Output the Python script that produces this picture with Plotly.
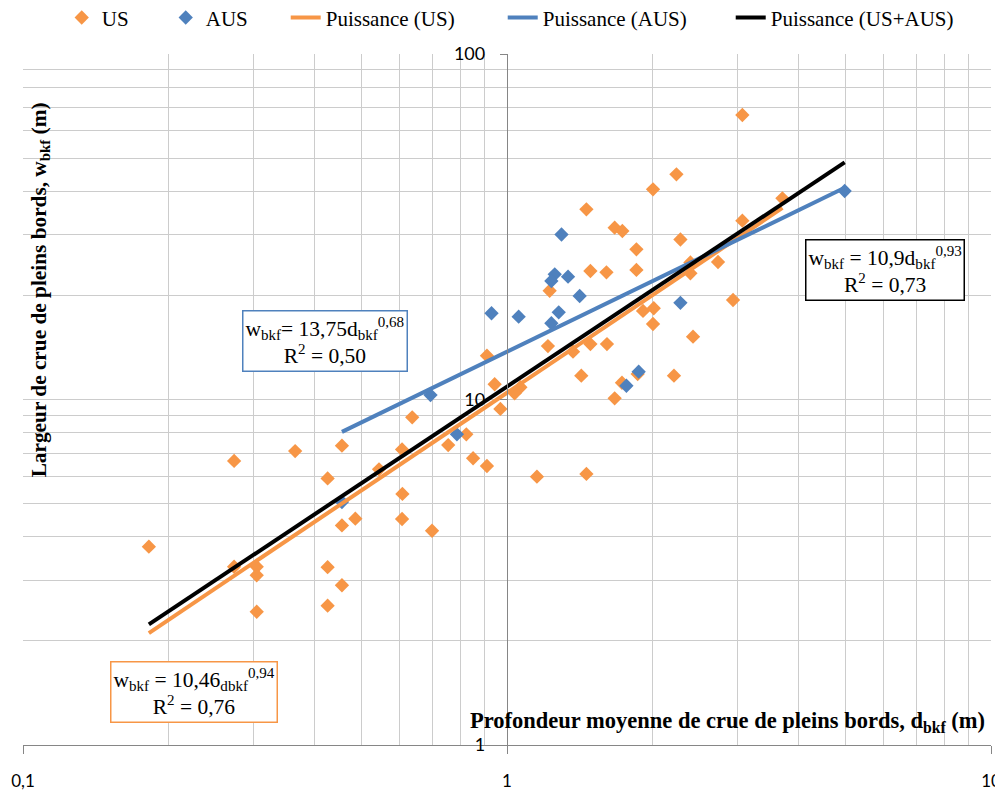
import numpy as np
import plotly.graph_objects as go

# ---- data ----
us_d = [0.182, 0.273, 0.365, 0.456, 0.426, 0.607, 0.637, 0.756, 0.544, 0.608,
        0.607, 0.486, 0.456, 0.700, 0.273, 0.304, 0.304, 0.426, 0.456, 0.304,
        0.426, 0.824, 0.851, 0.909, 1.153, 1.459, 0.969, 0.943, 1.037, 1.066,
        0.909, 1.215, 1.487, 1.609, 1.369, 1.424, 2.213, 1.862, 1.728, 1.669,
        1.910, 2.010, 2.003, 2.423, 2.931, 1.225, 1.487, 1.605, 1.851, 2.393,
        2.393, 2.729, 3.064, 2.282, 1.851, 1.669, 1.731, 1.459, 2.003, 2.239,
        3.064, 3.707]
us_w = [3.75, 6.64, 7.09, 7.35, 5.91, 7.17, 8.88, 7.38, 6.28, 5.33,
        4.51, 4.52, 4.32, 4.17, 3.28, 3.28, 3.10, 3.27, 2.90, 2.43,
        2.53, 7.93, 6.76, 6.42, 5.98, 6.09, 9.39, 11.07, 10.42, 10.85,
        13.39, 14.28, 14.47, 14.47, 13.75, 11.72, 11.72, 11.85, 11.18, 10.08,
        18.04, 18.37, 16.54, 15.20, 19.41, 20.64, 23.55, 23.34, 23.71, 23.19,
        24.92, 25.00, 32.93, 29.05, 27.21, 31.42, 30.74, 35.52, 40.59, 44.86,
        66.6, 38.22]

aus_d = [0.456, 0.695, 0.788, 0.929, 1.057, 1.235, 1.279, 1.255, 1.235, 1.337,
         1.413, 1.296, 1.871, 1.765, 2.282, 4.985]
aus_w = [5.05, 10.30, 7.93, 17.77, 17.37, 16.62, 17.88, 23.03, 22.03, 22.67,
         19.93, 30.03, 12.04, 10.96, 19.05, 40.13]

# power-law trend coefficients (w = a * d^b), as printed on the chart
fit_us = (10.46, 0.94)
fit_aus = (13.75, 0.68)
fit_all = (10.9, 0.93)

legend_names = ["US", "AUS", "Puissance (US)", "Puissance (AUS)", "Puissance (US+AUS)"]
x_tickvals = [0.1, 1, 10]
x_ticktext = ["0,1", "1", "10"]
y_tickvals = [1, 10, 100]
y_ticktext = ["1", "10", "100"]

ORANGE = "#F79646"
BLUE = "#4F81BD"
GRID = "#CCCCCC"
AXIS = "#868686"
SERIF = "Liberation Serif, DejaVu Serif, serif"
SANS = "Lato, Liberation Sans, sans-serif"


def trend(xs, fit):
    xx = np.geomspace(min(xs), max(xs), 20)
    return xx, fit[0] * xx ** fit[1]


fig = go.Figure()
fig.add_trace(go.Scatter(x=us_d, y=us_w, mode="markers", name=legend_names[0],
                         legendwidth=59,
                         marker=dict(symbol="diamond", size=11, color=ORANGE)))
fig.add_trace(go.Scatter(x=aus_d, y=aus_w, mode="markers", name=legend_names[1],
                         legendwidth=75,
                         marker=dict(symbol="diamond", size=11, color=BLUE)))
tx, ty = trend(us_d, fit_us)
fig.add_trace(go.Scatter(x=tx, y=ty, mode="lines", name=legend_names[2],
                         legendwidth=172,
                         line=dict(color=ORANGE, width=4)))
tx, ty = trend(aus_d, fit_aus)
fig.add_trace(go.Scatter(x=tx, y=ty, mode="lines", name=legend_names[3],
                         legendwidth=183,
                         line=dict(color=BLUE, width=4)))
tx, ty = trend(us_d + aus_d, fit_all)
fig.add_trace(go.Scatter(x=tx, y=ty, mode="lines", name=legend_names[4],
                         legendwidth=190,
                         line=dict(color="black", width=4)))

minor_x = [m * 10 ** e for e in (-1, 0) for m in range(2, 10)]
minor_y = [m * 10 ** e for e in (0, 1) for m in range(2, 10)]

# the page body adds an 8 px offset, so the figure is 8 px smaller
fig.update_layout(
    width=995, height=784,
    margin=dict(l=15, r=12, t=46, b=47, autoexpand=False),
    paper_bgcolor="white", plot_bgcolor="white",
    showlegend=True,
    legend=dict(orientation="h", xref="paper", yref="paper",
                x=0.040, xanchor="left", y=1.082, yanchor="top",
                font=dict(family=SERIF, size=21, color="black"),
                bgcolor="rgba(0,0,0,0)"),
    xaxis=dict(type="log", range=[-1, 1], tickmode="array", tickvals=x_tickvals,
               ticktext=x_ticktext, ticks="outside", ticklen=8, tickcolor=AXIS,
               showgrid=True, gridcolor=GRID, gridwidth=1,
               showline=True, linecolor=AXIS, linewidth=1.3, zeroline=False,
               tickfont=dict(family=SANS, size=17, color="black"),
               ticklabelstandoff=12,
               minor=dict(tickmode="array", tickvals=minor_x, showgrid=True,
                          gridcolor=GRID, gridwidth=1, ticks="")),
    yaxis=dict(type="log", range=[0, 2], tickmode="array", tickvals=y_tickvals,
               ticktext=y_ticktext, ticks="outside", ticklen=7, tickcolor=AXIS,
               anchor="free", position=0.5,
               showgrid=True, gridcolor=GRID, gridwidth=1,
               showline=True, linecolor=AXIS, linewidth=1.3, zeroline=False,
               tickfont=dict(family=SANS, size=18, color="black"),
               ticklabelstandoff=11,
               minor=dict(tickmode="array", tickvals=minor_y, showgrid=True,
                          gridcolor=GRID, gridwidth=1, ticks="")),
)

fig.add_annotation(xref="paper", yref="paper", x=0.0176, y=0.658, textangle=-90,
                   showarrow=False, xanchor="center", yanchor="middle",
                   text="<b>Largeur de crue de pleins bords, w<sub>bkf</sub> (m)</b>",
                   font=dict(family=SERIF, size=21.3, color="black"))
fig.add_annotation(xref="paper", yref="paper", x=0.996, y=0.033,
                   showarrow=False, xanchor="right", yanchor="middle",
                   text="<b>Profondeur moyenne de crue de pleins bords, d<sub>bkf</sub> (m)</b>",
                   font=dict(family=SERIF, size=22.5, color="black"))

box_font = dict(family=SERIF, size=21.5, color="black")
fig.add_annotation(xref="paper", yref="paper", x=0.312, y=0.584, showarrow=False,
                   xanchor="center", yanchor="middle",
                   text="w<sub>bkf</sub>= 13,75d<sub>bkf</sub><sup>0,68</sup><br>R<sup>2</sup> = 0,50",
                   font=box_font, bgcolor="white", bordercolor=BLUE, borderwidth=1.5,
                   borderpad=2, align="center")
fig.add_annotation(xref="paper", yref="paper", x=0.891, y=0.687, showarrow=False,
                   xanchor="center", yanchor="middle",
                   text="w<sub>bkf</sub> = 10,9d<sub>bkf</sub><sup>0,93</sup><br>R<sup>2</sup> = 0,73",
                   font=box_font, bgcolor="white", bordercolor="black", borderwidth=1.5,
                   borderpad=2, align="center")
fig.add_annotation(xref="paper", yref="paper", x=0.1767, y=0.076, showarrow=False,
                   xanchor="center", yanchor="middle",
                   text="w<sub>bkf</sub> = 10,46<sub>dbkf</sub><sup>0,94</sup><br>R<sup>2</sup> = 0,76",
                   font=box_font, bgcolor="white", bordercolor=ORANGE, borderwidth=1.5,
                   borderpad=2, align="center")

fig.write_html("out.html")
